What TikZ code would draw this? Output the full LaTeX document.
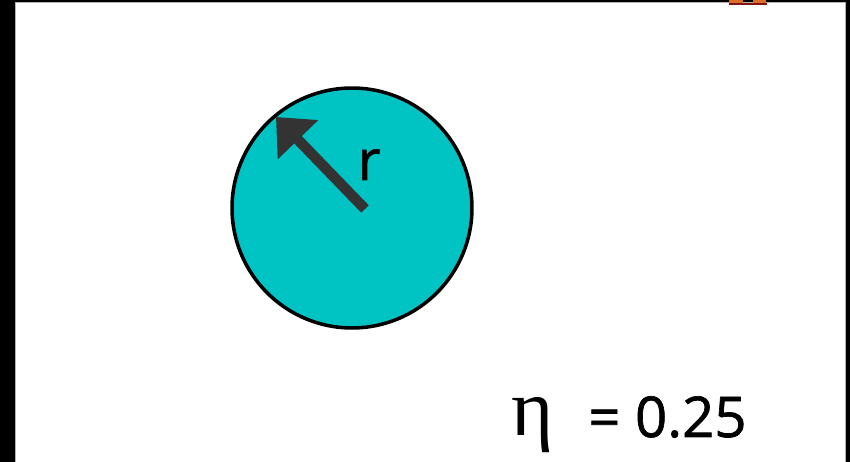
\documentclass[tikz,border=0pt]{standalone}
\usepackage{fontspec}
\setmainfont{Open Sans}
\newfontfamily\labelfont[FakeBold=1.2]{Open Sans}
\newfontfamily\etafont{Liberation Serif}
\usetikzlibrary{arrows.meta, positioning}
\definecolor{diskcyan}{RGB}{0, 196, 196}
\definecolor{arrowgray}{RGB}{51, 51, 51}
\definecolor{tagorange}{RGB}{220, 110, 40}
\definecolor{tagred}{RGB}{130, 20, 20}

\begin{document}
\begin{tikzpicture}[x=0.02cm, y=-0.02cm,
                    disk/.style={circle, draw=black, line width=2pt, fill=diskcyan,
                                 minimum size=4.8cm, inner sep=0pt},
                    radiusarrow/.style={line width=6pt, arrowgray,
                                        -{Triangle[length=18pt, width=31pt]}},
                    biglabel/.style={font=\labelfont\fontsize{32}{32}\selectfont, inner sep=0pt}]
  \useasboundingbox (0,0) rectangle (850,462);
  % frame
  \fill[black] (0,0) rectangle (850,462);
  \fill[white, draw=gray!60, line width=0.3pt] (15,2) rectangle (845,462);
  % clipped toolbar bits
  \fill[tagorange] (729,0) rectangle (743,3);
  \fill[tagorange] (753,0) rectangle (766,3);
  \fill[tagred] (729,3) rectangle (767,5);

  \node[disk] (ball) at (352,208) {};
  \coordinate (tail) at (365,209);
  \coordinate (tip) at (276,117);
  \draw[radiusarrow] (tail) -- (tip);
  \node[biglabel, anchor=base] (rlabel) at (369,180) {r};

  \node[anchor=base, inner sep=0pt, font=\etafont\fontsize{46}{46}\selectfont]
    (eta) at (533,436) {η};
  \node[biglabel, anchor=base west] (value) at (588,437) {= 0.25};
\end{tikzpicture}
\end{document}
